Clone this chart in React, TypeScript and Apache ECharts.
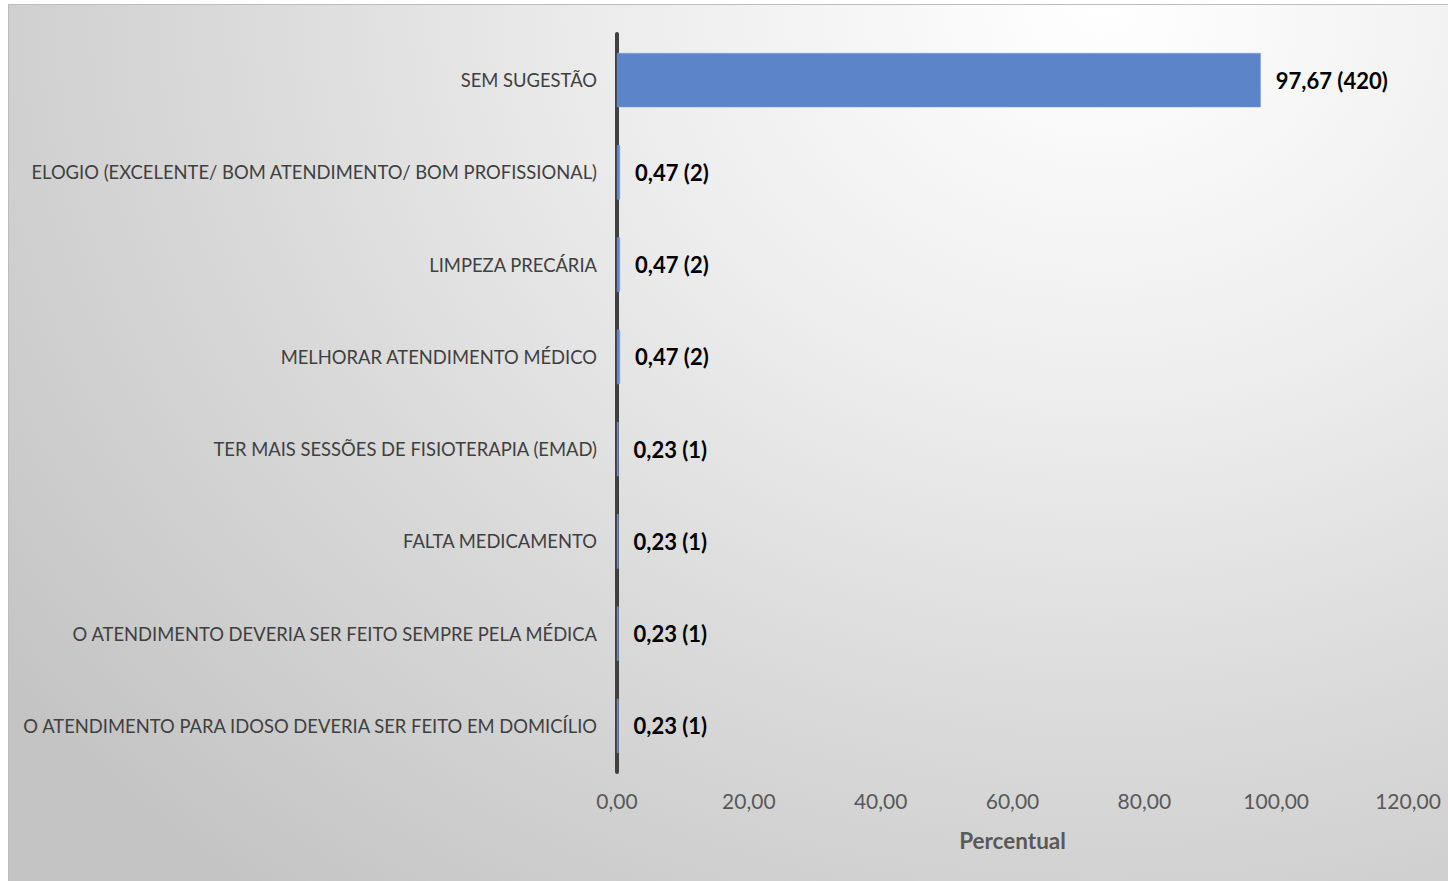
import React, { useEffect, useRef } from "react";
import * as echarts from "echarts";

const categories = [
  "SEM SUGESTÃO",
  "ELOGIO (EXCELENTE/ BOM ATENDIMENTO/ BOM PROFISSIONAL)",
  "LIMPEZA PRECÁRIA",
  "MELHORAR ATENDIMENTO MÉDICO",
  "TER MAIS SESSÕES DE FISIOTERAPIA (EMAD)",
  "FALTA MEDICAMENTO",
  "O ATENDIMENTO DEVERIA SER FEITO SEMPRE PELA MÉDICA",
  "O ATENDIMENTO PARA IDOSO DEVERIA SER FEITO EM DOMICÍLIO",
];
const percentages = [97.67, 0.47, 0.47, 0.47, 0.23, 0.23, 0.23, 0.23];
const counts = [420, 2, 2, 2, 1, 1, 1, 1];
const xTicks = { min: 0, max: 120, interval: 20 };
const axisTitle = "Percentual";

const fmt = (v: number) => v.toFixed(2).replace(".", ",");

export default function App() {
  const ref = useRef<HTMLDivElement>(null);
  useEffect(() => {
    if (!ref.current) return;
    const chart = echarts.init(ref.current, null, { renderer: "svg" });
    chart.setOption({
      animation: false,
      backgroundColor: "transparent",
      textStyle: { fontFamily: "Lato, 'Open Sans', sans-serif" },
      grid: {
        left: 608,
        right: 41,
        top: 29,
        height: 738,
        containLabel: false,
        outerBoundsMode: "none",
      },
      xAxis: {
        type: "value",
        min: xTicks.min,
        max: xTicks.max,
        interval: xTicks.interval,
        name: axisTitle,
        nameLocation: "middle",
        nameGap: 57,
        nameTextStyle: { fontSize: 22.5, fontWeight: "bold", color: "#595959", fontFamily: "Lato" },
        axisLine: { show: false },
        axisTick: { show: false },
        splitLine: { show: false },
        axisLabel: {
          formatter: (v: number) => fmt(v),
          fontSize: 21,
          color: "#595959",
          margin: 18,
          fontFamily: "Lato",
        },
      },
      yAxis: {
        type: "category",
        inverse: true,
        data: categories,
        axisLine: { show: true, lineStyle: { color: "#404040", width: 4 } },
        axisTick: { show: false },
        axisLabel: { fontSize: 18.4, color: "#404040", margin: 20, fontFamily: "Lato" },
      },
      series: [
        {
          type: "bar",
          data: percentages,
          barCategoryGap: "41%",
          itemStyle: { color: "#5b84c9", borderColor: "#86a3d6", borderWidth: 0.6 },
          label: {
            show: true,
            position: "right",
            distance: 15,
            fontSize: 22,
            fontWeight: "bold",
            color: "#000000",
            fontFamily: "Lato",
            formatter: (p: any) => `${fmt(p.value)} (${counts[p.dataIndex]})`,
          },
        },
      ],
    });
    return () => chart.dispose();
  }, []);
  return (
    <div
      style={{
        position: "absolute",
        left: 8,
        top: 4,
        width: 1440,
        height: 877,
        boxSizing: "border-box",
        borderTop: "1px solid #bdbdbd",
        borderLeft: "1px solid #bdbdbd",
        overflow: "hidden",
        background:
          "radial-gradient(ellipse 95% 130% at 76% 0%, #ffffff 0%, #ededed 35%, #d9d9d9 65%, #c4c4c4 100%)",
      }}
    >
      <div ref={ref} style={{ width: 1440, height: 877 }} />
    </div>
  );
}
